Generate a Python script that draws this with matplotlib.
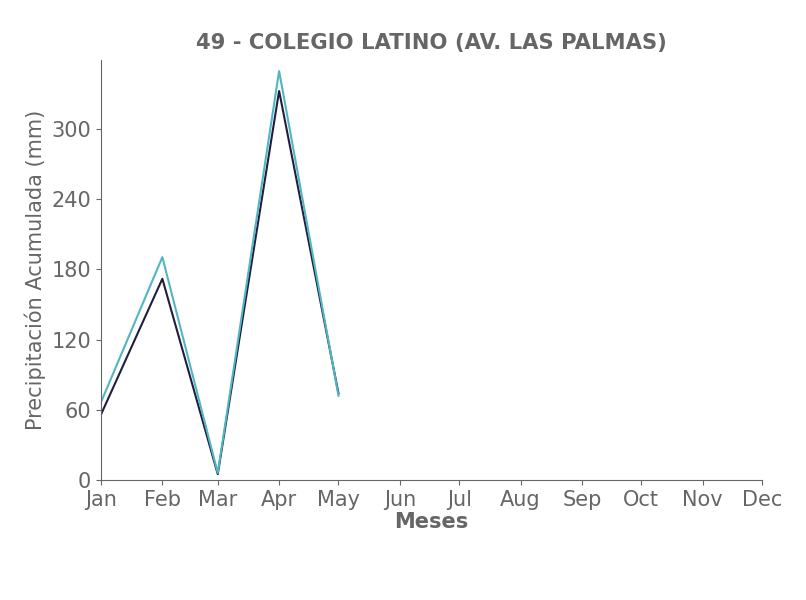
import matplotlib
matplotlib.use("Agg")
import matplotlib.pyplot as plt
import datetime as dt

months = ["Jan", "Feb", "Mar", "Apr", "May"]
month_labels = ["Jan", "Feb", "Mar", "Apr", "May", "Jun", "Jul", "Aug", "Sep", "Oct", "Nov", "Dec"]
series_teal = [66.5, 190.5, 6.0, 349.5, 72.0]
series_dark = [56.0, 172.0, 5.0, 332.5, 74.0]

dates = [dt.date(2023, i + 1, 1) for i in range(len(months))]
tick_dates = [dt.date(2023, i + 1, 1) for i in range(12)]

gray = "#666666"
fig = plt.figure(figsize=(8.06, 6.0), dpi=100)
ax = fig.add_axes([101 / 806, 1 - 480 / 600, (762 - 101) / 806, (480 - 60) / 600])
ax.plot(dates, series_dark, color="#211d3f", lw=1.5)
ax.plot(dates, series_teal, color="#52b6c2", lw=1.5)

ax.set_xlim(tick_dates[0], tick_dates[-1])
ax.set_ylim(0, 359)
ax.set_xticks(tick_dates)
ax.set_xticklabels(month_labels)
ax.set_yticks([0, 60, 120, 180, 240, 300])
for s in ["top", "right"]:
    ax.spines[s].set_visible(False)
for s in ["left", "bottom"]:
    ax.spines[s].set_color(gray)
ax.tick_params(colors=gray, labelsize=15, labelcolor=gray)
ax.set_xlabel("Meses", fontsize=15, fontweight="bold", color=gray, labelpad=2)
ax.set_ylabel("Precipitación Acumulada (mm)", fontsize=15, color=gray)
ax.set_title("49 - COLEGIO LATINO (AV. LAS PALMAS)", fontsize=15.2, fontweight="bold", color=gray, pad=8)
fig.savefig("out.png", dpi=100)
